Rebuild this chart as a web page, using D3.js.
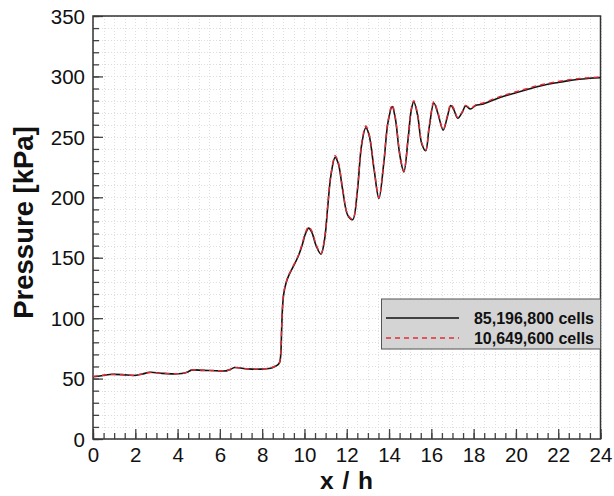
<!DOCTYPE html>
<html><head><meta charset="utf-8">
<script src="https://cdn.jsdelivr.net/npm/d3@7"></script>
<style>body{margin:0;background:#fff}svg{display:block}</style>
</head><body>
<svg id="c" width="614" height="496"></svg>
<script>
const xTicks = [0,2,4,6,8,10,12,14,16,18,20,22,24];
const yTicks = [0,50,100,150,200,250,300,350];
const seriesNames = ["85,196,800 cells","10,649,600 cells"];
const xs = [0,0.4,0.8,1.4,1.9,2.3,2.7,3.2,3.7,4.2,4.45,4.65,5.2,5.8,6.3,6.5,6.7,7.3,7.9,8.4,8.6,8.75,8.83,8.88,8.92,8.96,9.02,9.12,9.25,9.45,9.7,9.9,10.05,10.2,10.35,10.55,10.78,10.95,11.1,11.25,11.45,11.6,11.8,12.05,12.28,12.5,12.7,12.9,13.05,13.3,13.52,13.75,13.95,14.15,14.3,14.5,14.7,14.9,15.05,15.17,15.35,15.55,15.73,15.9,16.12,16.3,16.56,16.75,16.92,17.05,17.25,17.45,17.62,17.85,18.1,18.4,19.0,19.5,20.0,20.5,21.0,21.5,22.0,22.5,23.0,23.5,24.0];
const fine = [51.5,52.3,53.4,53.3,52.6,53.6,55.2,54.4,53.9,54.2,55.2,57.0,56.8,56.5,56.4,57.6,59.1,58.0,57.8,58.6,60.0,61.5,63.5,70,90,108,120,128.5,135,142,151,161,170,174.5,171,160,153,165,192,218,233,228,207,185,181.5,205,243,257.5,252,222,199,228,262,275,265,236,221,248,272,279,268,244,238.5,258,278,270,255.5,266,276,273,265.5,270,275.5,273,276,277,281,284,286.5,289,291.5,293.5,295,296.5,297.6,298.5,299];
const coarse = [51.8,52.5,53.5,53.2,52.8,53.8,55.0,54.5,54.0,54.3,55.4,57.1,56.9,56.6,56.5,57.8,59.0,58.1,57.9,58.8,60.2,61.8,64,72,92,109,121,129,135.5,142.5,151.5,162,171,175.5,172,161,153.5,166,193,219,234.5,229,208,185.5,182,206,244,259,253,223,199.5,229,263,276.5,266,237,221.5,249,273,280,269,245,239,259,279,271,256,267,277,274,266,270.5,276,273.5,276.5,277.8,281.8,284.8,287.3,289.8,292.3,294.2,295.8,297.2,298.3,299,299.5];

const svg = d3.select("#c");
const L=93, R=600.5, T=16, B=439;
const x = d3.scaleLinear().domain([0,24]).range([L,R]);
const y = d3.scaleLinear().domain([0,350]).range([B,T]);
const font = "'Liberation Sans', Arial, Helvetica, sans-serif";

// grid
const xMinor = d3.range(0,24.001,0.5);
const yMinor = d3.range(0,350.001,10);
const g = svg.append("g");
g.selectAll("line.gx").data(xMinor).join("line")
  .attr("x1",d=>Math.round(x(d))+0.5).attr("x2",d=>Math.round(x(d))+0.5).attr("y1",T).attr("y2",B)
  .attr("stroke","#dedede").attr("stroke-width",1).attr("stroke-dasharray","1,2");
g.selectAll("line.gy").data(yMinor).join("line")
  .attr("y1",d=>Math.round(y(d))+0.5).attr("y2",d=>Math.round(y(d))+0.5).attr("x1",L).attr("x2",R)
  .attr("stroke","#dedede").attr("stroke-width",1).attr("stroke-dasharray","1,2");

// axes with inward ticks
const xAxisMinor = d3.axisTop(x).tickValues(xMinor).tickSize(6).tickFormat("");
const xAxisMajor = d3.axisTop(x).tickValues(xTicks).tickSize(10).tickFormat(d3.format("d"));
const yAxisMinor = d3.axisRight(y).tickValues(yMinor).tickSize(6).tickFormat("");
const yAxisMajor = d3.axisRight(y).tickValues(yTicks).tickSize(10).tickFormat(d3.format("d"));

function styleAx(sel){ sel.select(".domain").remove(); sel.selectAll(".tick line").attr("stroke","#444").attr("stroke-width",1.3); }
svg.append("g").attr("transform",`translate(0,${B})`).call(xAxisMinor).call(styleAx);
const xa = svg.append("g").attr("transform",`translate(0,${B})`).call(xAxisMajor).call(styleAx);
xa.selectAll(".tick text").attr("y",23).attr("dy",0).attr("font-size",20.5).attr("font-family",font).attr("fill","#111");
svg.append("g").attr("transform",`translate(${L},0)`).call(yAxisMinor).call(styleAx);
const ya = svg.append("g").attr("transform",`translate(${L},0)`).call(yAxisMajor).call(styleAx);
ya.selectAll(".tick text").attr("x",-8).attr("dy","0.35em").attr("text-anchor","end").attr("font-size",20.5).attr("font-family",font).attr("fill","#111");

// frame
svg.append("rect").attr("x",L).attr("y",T).attr("width",R-L).attr("height",B-T)
  .attr("fill","none").attr("stroke","#333").attr("stroke-width",1.5);

// lines
const line = d3.line().x((d,i)=>x(xs[i])).y(d=>y(d)).curve(d3.curveCatmullRom.alpha(0.5));
svg.append("path").attr("d",line(fine)).attr("fill","none").attr("stroke","#111").attr("stroke-width",1.6);
svg.append("path").attr("d",line(coarse)).attr("fill","none").attr("stroke","#e32d36").attr("stroke-width",1.4).attr("stroke-dasharray","5,4");

// axis titles
svg.append("text").attr("x",347).attr("y",489).attr("text-anchor","middle")
  .attr("font-family",font).attr("font-weight","bold").attr("font-size",24.5).attr("letter-spacing",1).attr("fill","#111").text("x / h");
svg.append("text").attr("transform",`translate(33,222.5) rotate(-90)`).attr("text-anchor","middle")
  .attr("font-family",font).attr("font-weight","bold").attr("font-size",27.5).attr("fill","#111").text("Pressure [kPa]");

// legend
const lg = svg.append("g");
lg.append("rect").attr("x",381.5).attr("y",299).attr("width",R-381.5).attr("height",50)
  .attr("fill","#d4d4d4").attr("stroke","#555").attr("stroke-width",1);
const legY = [318,338];
const legStyle = [{c:"#111",d:null,w:1.6},{c:"#e32d36",d:"5,4",w:1.4}];
seriesNames.forEach((n,i)=>{
  lg.append("line").attr("x1",386).attr("x2",459).attr("y1",legY[i]).attr("y2",legY[i])
    .attr("stroke",legStyle[i].c).attr("stroke-width",legStyle[i].w).attr("stroke-dasharray",legStyle[i].d);
  lg.append("text").attr("x",594).attr("y",legY[i]+5.5).attr("text-anchor","end")
    .attr("font-family",font).attr("font-weight","bold").attr("font-size",16).attr("fill","#111").text(n);
});
</script>
</body></html>
